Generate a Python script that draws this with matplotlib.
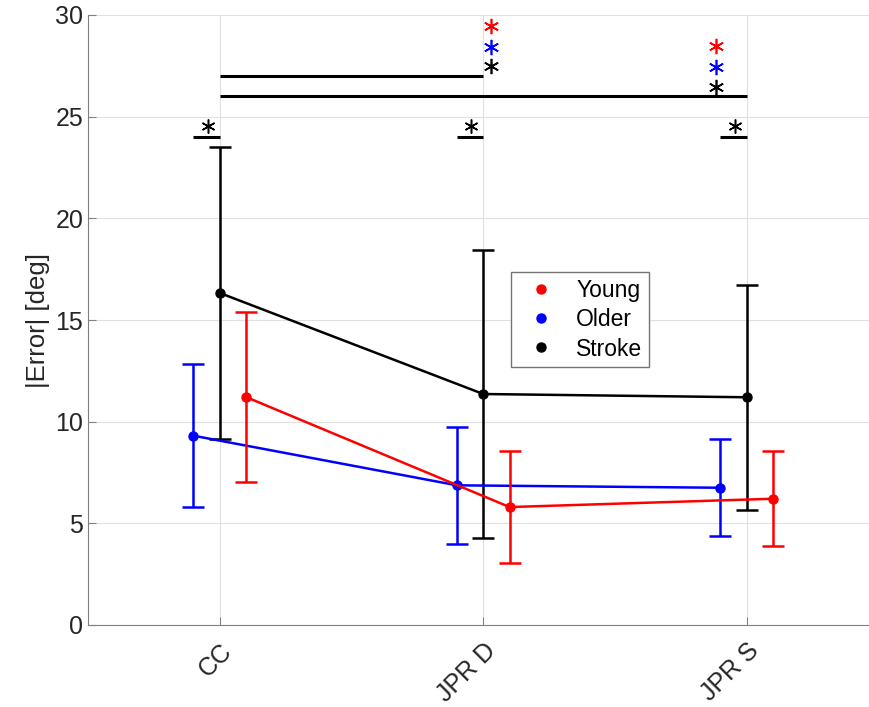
import matplotlib.pyplot as plt
import numpy as np

plt.rcParams['font.family'] = ['Liberation Sans', 'DejaVu Sans']

# data
tasks = ['CC', 'JPR D', 'JPR S']
young_mean = [11.21, 5.80, 6.21]
young_sd = [4.17, 2.77, 2.33]
older_mean = [9.31, 6.87, 6.75]
older_sd = [3.52, 2.87, 2.38]
stroke_mean = [16.33, 11.36, 11.20]
stroke_sd = [7.17, 7.07, 5.53]

# significance marks
brackets = [(1, 2, 27), (1, 3, 26)]       # x start, x end, y
short_bars = [1, 2, 3]                     # stroke-vs-rest bars at y=24
group_star_x = [2.03, 2.885]
group_star_y = [[29.45, 28.45, 27.5], [28.5, 27.45, 26.45]]

x = np.arange(1, len(tasks) + 1)

fig = plt.figure(figsize=(8.69, 7.07), dpi=100)
ax = fig.add_axes([88/869, 82/707, 790.5/869, 610/707])

ekw = dict(marker='o', ms=6.5, lw=1.8, elinewidth=1.8, capsize=8, capthick=1.8)
ax.errorbar(x, stroke_mean, yerr=stroke_sd, color='black', zorder=3, **ekw)
ax.errorbar(x - 0.1, older_mean, yerr=older_sd, color='blue', zorder=4, **ekw)
ax.errorbar(x + 0.1, young_mean, yerr=young_sd, color='red', zorder=5, **ekw)

for x0, x1, yy in brackets:
    ax.plot([x0, x1], [yy, yy], color='black', lw=2.2, solid_capstyle='butt')
for xs in short_bars:
    ax.plot([xs - 0.1, xs], [24, 24], color='black', lw=2.2, solid_capstyle='butt')
    ax.plot(xs - 0.045, 24.55, marker=(6, 2, 0), ms=10, mew=1.1, color='black', ls='none')
for gx, gys in zip(group_star_x, group_star_y):
    for c, gy in zip(['red', 'blue', 'black'], gys):
        ax.plot(gx, gy, marker=(6, 2, 0), ms=11, mew=1.2, color=c, ls='none', clip_on=False)

# legend handles: markers only
hy, = ax.plot([], [], 'o', color='red', ms=6.5, label='Young')
ho, = ax.plot([], [], 'o', color='blue', ms=6.5, label='Older')
hs, = ax.plot([], [], 'o', color='black', ms=6.5, label='Stroke')
leg = ax.legend(handles=[hy, ho, hs], loc='upper left', bbox_to_anchor=(0.535, 0.579),
                borderaxespad=0, fancybox=False, framealpha=1, edgecolor='0.45',
                fontsize=16.5, handlelength=2.0, handletextpad=0.55, borderpad=0.3,
                labelspacing=0.28)
leg.get_frame().set_linewidth(1.0)

ax.set_xlim(0.5, 3.5)
ax.set_ylim(0, 30)
ax.set_yticks(np.arange(0, 31, 5))
ax.set_xticks(x)
ax.set_xticklabels(tasks, rotation=45, ha='right', va='top', rotation_mode='anchor')
ax.tick_params(direction='in', labelsize=18, colors='0.5', labelcolor='0.15', length=6)
ax.tick_params(axis='x', pad=10)
ax.set_ylabel('|Error| [deg]', fontsize=18.5, color='0.15', labelpad=4)
ax.grid(True, color='0.88', lw=0.8)
ax.set_axisbelow(True)
ax.spines['top'].set_visible(False)
ax.spines['right'].set_visible(False)
ax.spines['left'].set_color('0.5')
ax.spines['bottom'].set_color('0.5')

fig.savefig('out.png', dpi=100)
